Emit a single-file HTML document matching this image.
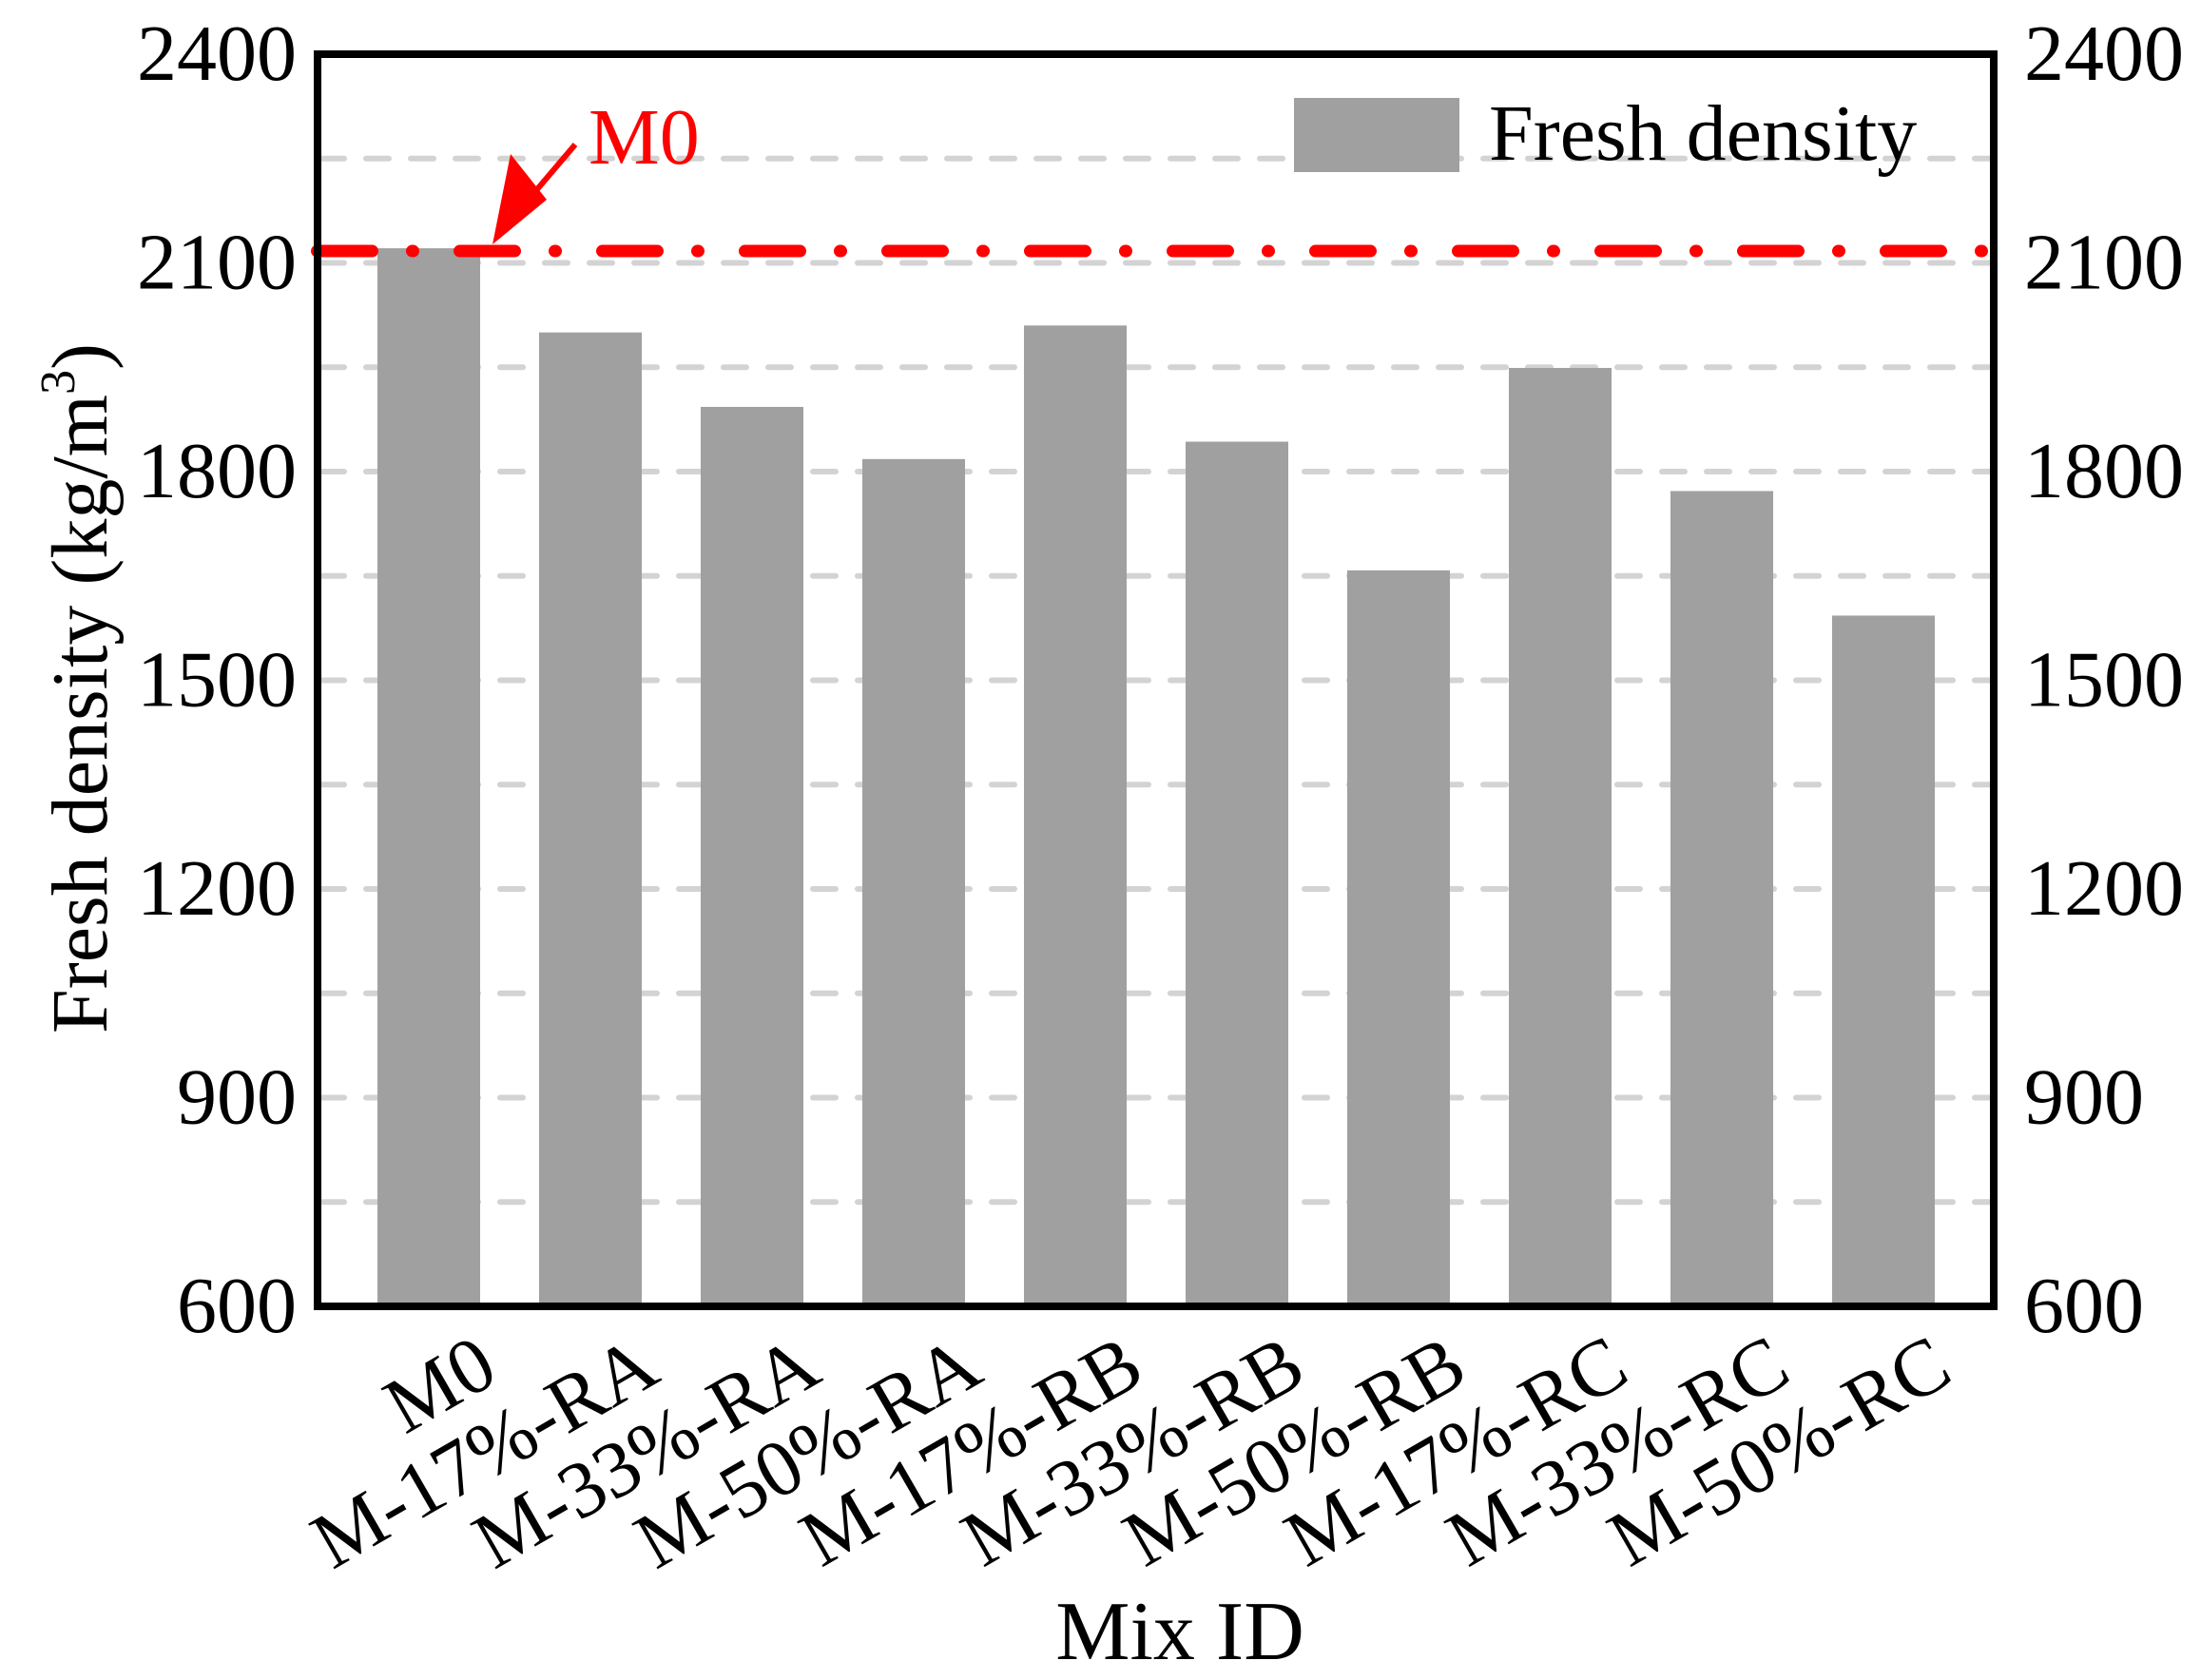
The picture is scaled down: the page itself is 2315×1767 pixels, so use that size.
<!DOCTYPE html>
<html><head><meta charset="utf-8"><style>
html,body{margin:0;padding:0;background:#fff}
svg{display:block;font-family:"Liberation Serif","Times New Roman",serif}
</style></head><body>
<svg id="chart" width="2315" height="1767" viewBox="0 0 2315 1767" xmlns="http://www.w3.org/2000/svg">
<g id="grid"></g>
<g id="bars"></g>
<g id="refline"></g>
<rect x="334" y="57" width="1763" height="1317" fill="none" stroke="#000" stroke-width="8"/>
<g id="yleft" font-size="84" text-anchor="end"></g>
<g id="yright" font-size="84" text-anchor="start"></g>
<g id="xlabels" font-size="84" text-anchor="end"></g>
<text transform="translate(112,724) rotate(-90)" font-size="84" text-anchor="middle">Fresh density (kg/m<tspan font-size="52" dy="-34">3</tspan><tspan dy="34">)</tspan></text>
<text x="1241" y="1745" font-size="88" text-anchor="middle">Mix ID</text>
<g>
<rect x="1361" y="103" width="174" height="78" fill="#a0a0a0"/>
<text x="1566" y="168" font-size="84">Fresh density</text>
</g>
</svg>
<script>
const categories = ["M0","M-17%-RA","M-33%-RA","M-50%-RA","M-17%-RB","M-33%-RB","M-50%-RB","M-17%-RC","M-33%-RC","M-50%-RC"];
const density = [2121, 2000, 1893, 1818, 2010, 1843, 1658, 1949, 1772, 1593];
const refValue = 2117;
const yTicks = [600, 900, 1200, 1500, 1800, 2100, 2400];
const gridValues = [750, 900, 1050, 1200, 1350, 1500, 1650, 1800, 1950, 2100, 2250];
const yMin = 600, yMax = 2400;
const NS = "http://www.w3.org/2000/svg";
function y(v){ return 1374 - (v - yMin) / (yMax - yMin) * 1317; }
function x(i){ return 451 + 170 * i; }
function mk(tag, attrs, parent){ const e = document.createElementNS(NS, tag); for (const k in attrs) e.setAttribute(k, attrs[k]); parent.appendChild(e); return e; }
const grid = document.getElementById('grid');
gridValues.forEach(v => {
  const l = mk('line', {x1:338, x2:2093, y1:y(v), y2:y(v), stroke:'#d3d3d3', 'stroke-width':6, 'stroke-dasharray':'24 23', 'stroke-linecap':'round'}, grid);
  
  
});
const bars = document.getElementById('bars');
density.forEach((v, i) => {
  const r = mk('rect', {x:x(i)-54, y:y(v), width:108, height:y(yMin)-y(v), fill:'#a0a0a0'}, bars);
  
  
});
const ref = document.getElementById('refline');
const rl = mk('line', {x1:333.5, x2:2090, y1:y(refValue), y2:y(refValue), stroke:'#ff0000', 'stroke-width':13, 'stroke-linecap':'round', 'stroke-dasharray':'58 42 1 49'}, ref);


const ar = mk('line', {x1:605, y1:152, x2:548, y2:y(refValue)-45, stroke:'#ff0000', 'stroke-width':6}, ref);


const ah = mk('polygon', {points:`518,${y(refValue)-7} 537,${y(refValue)-102} 575,${y(refValue)-54}`, fill:'#ff0000'}, ref);


const mt = mk('text', {x:619, y:172, 'font-size':84, fill:'#ff0000'}, ref);
mt.textContent = 'M0';


const yl = document.getElementById('yleft'), yr = document.getElementById('yright');
yTicks.forEach(t => {
  const a = mk('text', {x:312, y:y(t)+27}, yl); a.textContent = t;
  
  
  const b = mk('text', {x:2129, y:y(t)+27}, yr); b.textContent = t;
  
  
});
const xl = document.getElementById('xlabels');
categories.forEach((c, i) => {
  const t = mk('text', {transform:`translate(${x(i)+76},1451) rotate(-30)`}, xl);
  t.textContent = c;
  
  
});
</script>
</body></html>
